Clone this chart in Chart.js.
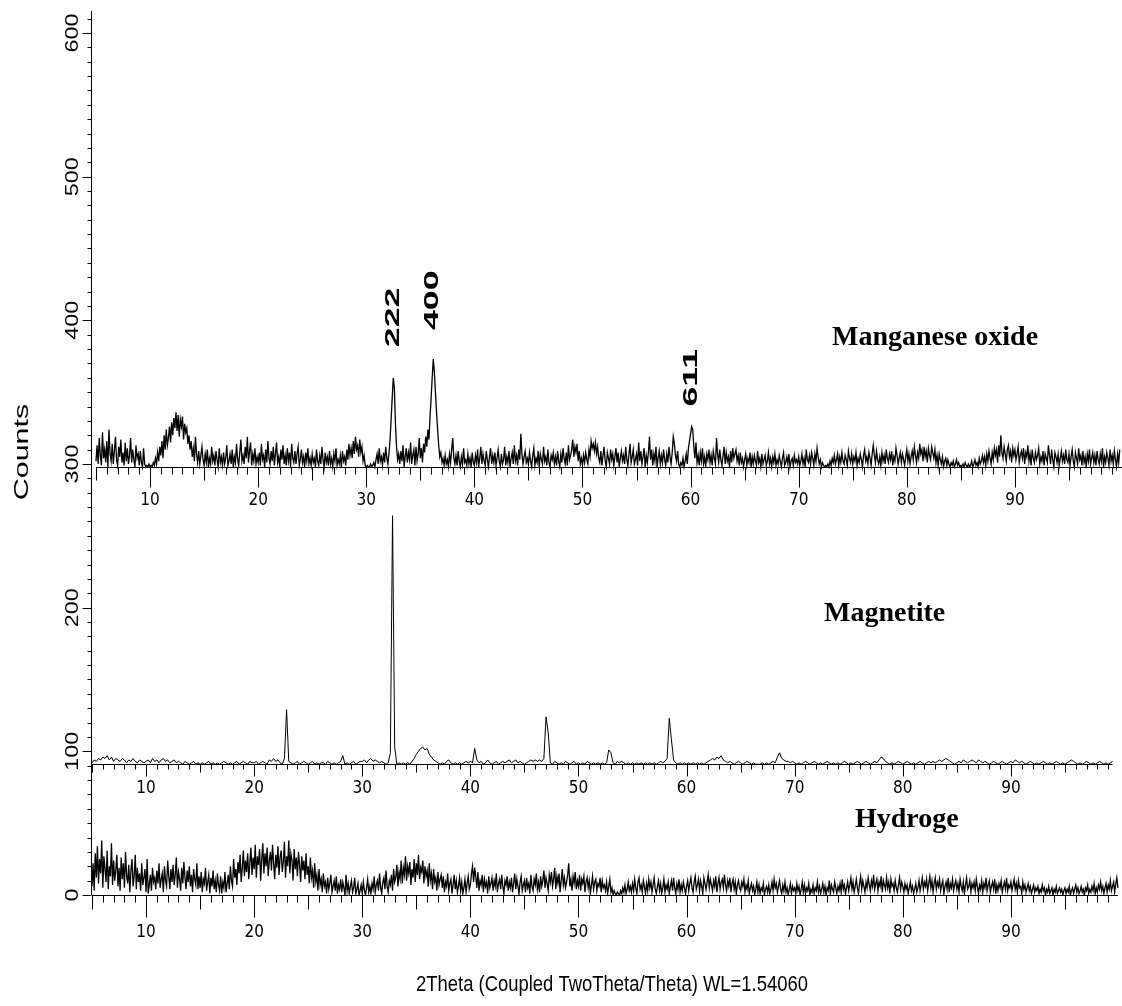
<!DOCTYPE html>
<html>
<head>
<meta charset="utf-8">
<title>XRD patterns</title>
<script src="https://cdn.jsdelivr.net/npm/chart.js@4.4.1/dist/chart.umd.min.js"></script>
<style>
  html, body { margin: 0; padding: 0; background: #fff; }
  canvas { display: block; }
</style>
</head>
<body>
<canvas id="xrdChart" width="1122" height="1006"></canvas>
<script>
// 2theta grid of the scans (degrees)
const THETA_START = 5;
const MN_STEP = 0.1;
const MAG_STEP = 0.2;
const HYD_STEP = 0.1;

const xTickLabels = [10, 20, 30, 40, 50, 60, 70, 80, 90];
const yTickLabels = [0, 100, 200, 300, 400, 500, 600];

// each pattern is stacked on its own baseline (counts)
const mnBaseline = 298;
const magBaseline = 91;
const hydBaseline = 0;

// Manganese oxide, counts above its baseline, one line = 2.5 degrees
const mnCounts = [
  4, 15, 2, 20, 8, 1, 24, 6, 12, 3, 18, 0, 26, 9, 4, 16, 2, 11, 21, 5, 1, 14, 7, 19, 3,
  10, 1, 17, 4, 13, 2, 8, 20, 3, 12, 5, 0, 15, 6, 9, 1, 11, 3, 0, 13, 2, 0, 1, 0, 2,
  0, 1, 0, 3, 1, 6, 2, 10, 4, 14, 8, 18, 6, 22, 12, 26, 15, 20, 28, 17, 31, 22, 34, 27, 38,
  25, 36, 21, 33, 28, 35, 19, 30, 24, 27, 16, 22, 12, 18, 7, 13, 4, 21, 9, 3, 11, 2, 8, 14, 5,
  1, 9, 3, 12, 0, 6, 2, 14, 4, 8, 1, 11, 5, 0, 13, 3, 7, 1, 10, 2, 6, 15, 1, 4, 9,
  2, 12, 0, 7, 3, 16, 5, 1, 10, 19, 4, 8, 2, 14, 6, 21, 3, 11, 17, 1, 9, 4, 13, 2, 7,
  3, 10, 1, 16, 5, 8, 0, 12, 3, 18, 6, 2, 11, 4, 14, 1, 9, 17, 3, 7, 0, 12, 5, 15, 2,
  8, 1, 13, 4, 10, 0, 16, 6, 3, 11, 2, 9, 14, 1, 5, 12, 3, 7, 0, 10, 4, 13, 2, 6, 1,
  9, 3, 6, 0, 12, 4, 1, 8, 2, 14, 5, 0, 10, 3, 7, 1, 11, 2, 6, 0, 9, 4, 13, 1, 5,
  2, 8, 0, 11, 4, 7, 1, 12, 5, 16, 8, 13, 6, 18, 9, 21, 12, 15, 7, 19, 10, 14, 4, 8, 1,
  0, 1, 0, 0, 2, 0, 1, 3, 0, 5, 9, 2, 13, 4, 7, 1, 10, 3, 14, 6, 2, 9, 19, 33, 48,
  62, 55, 30, 14, 5, 9, 2, 11, 4, 15, 0, 7, 13, 3, 10, 5, 17, 2, 8, 12, 1, 14, 4, 9, 20,
  6, 13, 3, 16, 10, 21, 14, 26, 19, 35, 48, 62, 75, 66, 52, 38, 26, 15, 7, 10, 3, 6, 1, 8, 2,
  5, 0, 9, 3, 12, 20, 6, 2, 8, 1, 11, 4, 0, 7, 2, 13, 3, 5, 1, 9, 2, 6, 0, 10, 3,
  1, 8, 3, 12, 0, 6, 14, 2, 9, 4, 1, 11, 5, 0, 7, 13, 2, 8, 3, 10, 1, 6, 12, 4, 0,
  9, 2, 5, 14, 1, 7, 3, 11, 0, 6, 10, 2, 15, 4, 8, 1, 12, 5, 23, 9, 2, 7, 11, 3, 6,
  2, 10, 4, 0, 8, 13, 1, 6, 3, 11, 0, 9, 5, 2, 14, 4, 7, 1, 12, 3, 0, 8, 5, 10, 2,
  7, 1, 11, 4, 0, 9, 3, 13, 6, 2, 10, 1, 15, 5, 8, 12, 19, 7, 14, 10, 16, 4, 11, 2, 6,
  1, 8, 3, 10, 5, 2, 12, 7, 18, 13, 16, 11, 17, 9, 14, 6, 3, 11, 1, 8, 14, 4, 0, 10, 6,
  2, 12, 5, 9, 1, 7, 13, 3, 10, 0, 6, 11, 4, 8, 2, 14, 5, 1, 9, 16, 3, 7, 12, 2, 5,
  9, 1, 17, 4, 11, 2, 7, 13, 0, 8, 3, 10, 21, 5, 12, 1, 9, 4, 14, 0, 6, 11, 2, 8, 3,
  12, 5, 1, 9, 3, 14, 7, 2, 10, 21, 16, 8, 4, 11, 2, 0, 3, 1, 6, 0, 4, 9, 2, 13, 18,
  23, 28, 26, 14, 6, 17, 3, 8, 1, 10, 4, 13, 2, 7, 0, 9, 5, 12, 3, 8, 1, 11, 6, 2, 20,
  9, 3, 12, 5, 1, 8, 14, 2, 10, 4, 7, 0, 11, 3, 13, 6, 9, 12, 4, 8, 1, 10, 3, 6, 0,
  5, 9, 1, 6, 3, 10, 0, 7, 2, 8, 4, 1, 11, 3, 6, 0, 9, 2, 5, 8, 1, 4, 10, 2, 6,
  0, 7, 3, 9, 1, 5, 2, 8, 4, 0, 6, 10, 1, 3, 7, 2, 9, 0, 4, 6, 1, 8, 3, 5, 2,
  7, 1, 4, 9, 2, 6, 0, 12, 5, 3, 8, 2, 10, 6, 1, 9, 4, 13, 7, 2, 5, 0, 3, 1, 0,
  1, 0, 2, 0, 4, 1, 6, 3, 8, 2, 5, 9, 1, 7, 3, 10, 4, 2, 8, 5, 1, 11, 6, 3, 9,
  2, 7, 4, 10, 1, 6, 3, 9, 5, 0, 8, 12, 4, 7, 2, 10, 6, 1, 9, 15, 8, 3, 11, 5, 2,
  7, 1, 10, 4, 8, 2, 12, 6, 3, 9, 5, 11, 1, 7, 4, 13, 8, 2, 6, 10, 3, 9, 5, 1, 7,
  12, 4, 9, 2, 7, 11, 5, 14, 8, 3, 10, 6, 16, 9, 12, 4, 14, 7, 11, 3, 13, 8, 5, 14, 10,
  6, 12, 3, 8, 1, 9, 5, 2, 7, 0, 4, 6, 1, 5, 2, 0, 3, 1, 4, 0, 2, 5, 1, 3, 0,
  1, 0, 2, 0, 3, 1, 0, 2, 0, 1, 4, 0, 2, 5, 1, 3, 0, 6, 2, 4, 8, 3, 7, 1, 9,
  4, 11, 6, 2, 10, 5, 13, 8, 12, 3, 15, 7, 22, 10, 6, 14, 9, 4, 12, 15, 7, 11, 3, 13, 8,
  12, 5, 9, 14, 3, 8, 11, 6, 13, 2, 10, 7, 15, 4, 9, 1, 12, 6, 3, 10, 5, 8, 13, 2, 7,
  4, 11, 1, 9, 6, 3, 15, 8, 2, 12, 5, 0, 10, 7, 3, 9, 1, 6, 11, 4, 8, 2, 12, 5, 3,
  9, 1, 7, 12, 4, 0, 10, 6, 2, 13, 5, 8, 1, 11, 3, 7, 0, 9, 4, 12, 2, 6, 10, 3, 8,
  1, 11, 5, 2, 9, 4, 13, 0, 7, 3, 10, 6, 1, 12, 4, 8, 2, 11, 5, 0, 9, 3, 12, 6, 10
];

// Magnetite, one line = 5 degrees
const magCounts = [
  1, 3, 2, 4, 3, 5, 4, 6, 3, 5, 2, 4, 3, 2, 4, 3, 1, 3, 2, 4, 2, 1, 3, 2, 1,
  2, 3, 1, 4, 2, 3, 1, 3, 4, 2, 3, 1, 2, 3, 1, 2, 1, 0, 2, 1, 0, 1, 2, 0, 1,
  0, 1, 0, 1, 2, 0, 1, 0, 1, 0, 1, 2, 1, 0, 1, 0, 1, 2, 0, 1, 2, 1, 0, 2, 1,
  1, 2, 0, 1, 2, 1, 0, 3, 2, 4, 2, 3, 1, 0, 4, 38, 2, 1, 0, 1, 2, 0, 1, 2, 1,
  0, 1, 2, 0, 1, 0, 1, 1, 0, 2, 1, 0, 1, 0, 1, 2, 6, 0, 1, 0, 1, 2, 0, 1, 2,
  2, 3, 1, 3, 4, 2, 3, 2, 1, 2, 1, 0, 1, 8, 173, 12, 0, 1, 0, 1, 0, 1, 0, 2, 4,
  7, 9, 11, 12, 10, 11, 7, 5, 3, 2, 1, 0, 1, 0, 2, 3, 1, 0, 1, 0, 1, 0, 1, 2, 1,
  2, 1, 11, 3, 1, 2, 0, 1, 3, 1, 0, 1, 2, 0, 1, 2, 1, 2, 3, 1, 2, 3, 1, 2, 1,
  0, 1, 2, 3, 2, 3, 2, 3, 2, 4, 33, 22, 1, 0, 2, 1, 0, 1, 0, 2, 1, 0, 1, 2, 0,
  1, 0, 1, 0, 2, 1, 0, 1, 0, 1, 0, 1, 0, 1, 10, 8, 1, 0, 2, 1, 2, 1, 0, 1, 0,
  1, 0, 1, 0, 1, 0, 1, 0, 1, 0, 1, 0, 1, 2, 1, 2, 4, 32, 17, 3, 1, 0, 1, 0, 1,
  0, 1, 0, 1, 0, 1, 0, 1, 0, 1, 2, 3, 4, 3, 5, 4, 6, 3, 2, 1, 2, 1, 0, 1, 2,
  1, 0, 1, 2, 1, 0, 1, 0, 0, 0, 1, 0, 1, 0, 1, 2, 1, 5, 8, 4, 3, 2, 2, 1, 2,
  1, 0, 1, 0, 1, 2, 1, 0, 1, 2, 1, 0, 1, 0, 1, 2, 1, 0, 1, 0, 1, 0, 1, 2, 1,
  0, 1, 0, 1, 2, 1, 0, 1, 2, 1, 0, 1, 2, 1, 3, 5, 4, 2, 1, 0, 1, 0, 1, 2, 1,
  0, 1, 2, 1, 0, 1, 0, 1, 2, 1, 0, 1, 2, 1, 2, 1, 2, 3, 2, 3, 4, 3, 2, 1, 0,
  1, 2, 1, 3, 2, 1, 2, 3, 2, 1, 3, 2, 1, 2, 1, 0, 1, 2, 1, 0, 1, 2, 1, 0, 1,
  2, 1, 3, 2, 1, 2, 1, 0, 1, 2, 1, 0, 1, 0, 1, 2, 1, 0, 1, 0, 1, 2, 1, 0, 1,
  0, 1, 2, 3, 2, 1, 0, 1, 0, 1, 2, 1, 0, 1, 0, 1, 2, 1, 0, 1, 0, 1, 2
];

// Hydroge, one line = 2.5 degrees
const hydCounts = [
  6, 22, 3, 29, 12, 34, 8, 25, 15, 38, 5, 27, 18, 9, 31, 4, 20, 13, 36, 7, 24, 10, 17, 28, 6,
  19, 3, 26, 11, 22, 5, 30, 14, 8, 21, 2, 17, 25, 6, 13, 28, 4, 19, 9, 15, 3, 22, 7, 12, 18,
  2, 25, 1, 7, 14, 3, 19, 9, 12, 4, 17, 8, 22, 5, 11, 15, 2, 20, 10, 6, 24, 13, 4, 18, 9,
  21, 7, 14, 26, 5, 16, 11, 3, 19, 8, 23, 12, 4, 17, 9, 20, 6, 14, 2, 18, 11, 7, 22, 4, 13,
  5, 16, 2, 11, 8, 19, 3, 9, 14, 1, 12, 6, 17, 4, 10, 2, 15, 7, 3, 13, 1, 9, 5, 16, 2,
  8, 14, 4, 20, 10, 6, 25, 12, 18, 7, 23, 15, 28, 9, 19, 31, 13, 24, 16, 29, 11, 22, 33, 14, 26,
  18, 35, 12, 27, 21, 32, 10, 25, 36, 15, 29, 20, 33, 13, 24, 30, 17, 35, 22, 11, 28, 19, 34, 14, 26,
  31, 16, 23, 37, 12, 27, 20, 38, 15, 29, 24, 10, 32, 18, 26, 13, 30, 21, 9, 27, 17, 24, 11, 29, 14,
  20, 8, 26, 12, 17, 5, 22, 9, 14, 3, 18, 7, 11, 2, 15, 6, 9, 1, 12, 4, 8, 14, 2, 6, 10,
  3, 13, 1, 7, 4, 11, 2, 9, 5, 0, 14, 3, 8, 1, 6, 10, 2, 5, 12, 1, 4, 8, 0, 3, 7,
  1, 9, 3, 0, 5, 11, 2, 6, 1, 8, 4, 13, 2, 7, 10, 3, 15, 5, 1, 9, 12, 4, 17, 6, 2,
  10, 7, 14, 3, 18, 9, 12, 21, 6, 16, 11, 24, 8, 19, 14, 27, 10, 20, 15, 23, 7, 18, 12, 25, 9,
  22, 14, 28, 11, 19, 16, 24, 8, 20, 13, 17, 6, 22, 10, 15, 4, 18, 9, 12, 3, 16, 7, 11, 14, 5,
  13, 2, 9, 6, 15, 3, 8, 11, 1, 7, 14, 4, 10, 2, 6, 12, 3, 9, 1, 5, 11, 2, 8, 13, 4,
  7, 15, 20, 9, 19, 13, 5, 16, 3, 10, 7, 14, 2, 11, 6, 9, 1, 13, 5, 8, 12, 3, 10, 6, 15,
  2, 8, 11, 4, 14, 6, 1, 10, 7, 13, 3, 9, 5, 12, 2, 8, 15, 4, 11, 6, 1, 9, 13, 3, 7,
  10, 2, 12, 5, 8, 1, 14, 6, 3, 11, 7, 15, 4, 9, 2, 13, 6, 10, 17, 5, 12, 8, 3, 14, 9,
  16, 6, 11, 19, 4, 13, 8, 15, 2, 10, 18, 7, 12, 5, 9, 14, 22, 6, 11, 3, 13, 8, 16, 4, 10,
  6, 14, 3, 11, 8, 13, 2, 9, 12, 5, 10, 1, 7, 13, 4, 9, 11, 3, 8, 6, 12, 2, 10, 5, 7,
  3, 9, 1, 6, 11, 2, 5, 0, 3, 1, 0, 2, 1, 0, 3, 1, 5, 2, 7, 1, 4, 9, 3, 6, 2,
  8, 3, 11, 5, 1, 9, 12, 4, 7, 2, 10, 6, 1, 8, 3, 11, 5, 9, 2, 7, 12, 4, 1, 6, 10,
  3, 8, 1, 5, 11, 2, 7, 4, 9, 1, 6, 10, 3, 12, 5, 1, 8, 4, 11, 2, 7, 3, 9, 5, 1,
  6, 10, 3, 8, 12, 5, 2, 9, 13, 4, 7, 11, 3, 10, 6, 1, 12, 8, 4, 9, 14, 5, 11, 7, 3,
  10, 6, 13, 2, 8, 12, 4, 9, 11, 5, 14, 7, 3, 10, 6, 12, 2, 8, 11, 4, 9, 1, 7, 10, 5,
  3, 9, 6, 11, 2, 7, 4, 10, 1, 5, 8, 3, 6, 0, 4, 9, 2, 7, 1, 5, 3, 8, 0, 4, 6,
  2, 7, 1, 4, 9, 3, 11, 5, 8, 2, 6, 10, 4, 1, 7, 3, 9, 2, 5, 0, 4, 8, 1, 6, 3,
  5, 1, 8, 3, 6, 0, 4, 9, 2, 7, 1, 5, 3, 8, 0, 4, 2, 7, 1, 5, 3, 9, 2, 6, 1,
  4, 8, 2, 6, 0, 5, 3, 10, 1, 7, 4, 2, 9, 5, 1, 6, 3, 8, 2, 11, 4, 7, 1, 5, 9,
  3, 7, 12, 4, 9, 2, 6, 11, 5, 1, 8, 13, 4, 10, 6, 2, 9, 5, 12, 7, 3, 10, 6, 14, 4,
  8, 11, 3, 9, 6, 13, 2, 10, 7, 4, 12, 5, 9, 1, 11, 6, 8, 3, 10, 5, 2, 7, 12, 4, 9,
  6, 2, 8, 4, 7, 1, 5, 9, 3, 6, 1, 4, 8, 2, 5, 10, 3, 7, 12, 4, 9, 6, 11, 3, 8,
  13, 5, 10, 2, 8, 12, 4, 9, 6, 11, 3, 7, 10, 1, 6, 9, 4, 12, 2, 8, 5, 11, 3, 7, 10,
  4, 8, 2, 11, 6, 3, 9, 1, 7, 12, 4, 6, 10, 2, 8, 5, 9, 3, 11, 6, 1, 7, 4, 10, 2,
  8, 5, 12, 3, 7, 10, 2, 6, 9, 4, 11, 1, 7, 3, 8, 5, 10, 2, 6, 9, 4, 12, 3, 7, 5,
  9, 3, 7, 11, 4, 8, 2, 10, 5, 6, 1, 9, 4, 7, 2, 5, 8, 3, 6, 1, 4, 7, 2, 5, 3,
  6, 1, 4, 2, 7, 3, 5, 0, 4, 2, 6, 1, 3, 5, 0, 4, 2, 6, 1, 3, 5, 2, 4, 0, 3,
  5, 1, 4, 2, 6, 0, 3, 5, 1, 4, 7, 2, 5, 1, 3, 6, 2, 4, 0, 5, 3, 7, 1, 4, 2,
  6, 3, 8, 1, 5, 2, 7, 4, 9, 3, 6, 1, 5, 8, 2, 7, 4, 10, 3, 6, 9, 2, 8, 12, 5
];

// hkl reflections marked on the manganese oxide pattern
const hklLabels = ['222', '400', '611'];
const hklTheta = [32.5, 36.1, 60.1];
const hklLabelCounts = [402, 414, 360];

const patternNames = ['Manganese oxide', 'Magnetite', 'Hydroge'];
const xTitle = '2Theta (Coupled TwoTheta/Theta) WL=1.54060';

const NARROW = '"Liberation Sans Narrow", "DejaVu Sans Condensed", "Arial Narrow", sans-serif';
const SANS = '"Liberation Sans", Arial, sans-serif';
const SERIF = '"Liberation Serif", "Times New Roman", serif';

function toPoints(counts, base, step) {
  return counts.map((c, i) => ({ x: +(THETA_START + i * step).toFixed(1), y: base + c }));
}

function line(ctx, x1, y1, x2, y2) {
  ctx.beginPath();
  ctx.moveTo(x1, y1);
  ctx.lineTo(x2, y2);
  ctx.stroke();
}

// baseline + ticks + labels for one pattern
function drawThetaAxis(ctx, xs, ys, base, last, lens, labelGap, font) {
  const py = Math.round(ys.getPixelForValue(base)) + 0.5;
  line(ctx, xs.getPixelForValue(THETA_START), py, xs.getPixelForValue(last), py);
  for (let t = THETA_START; t <= Math.floor(last); t++) {
    const px = Math.round(xs.getPixelForValue(t)) + 0.5;
    const len = t % 10 === 0 ? lens[0] : (t % 5 === 0 ? lens[1] : lens[2]);
    line(ctx, px, py, px, py + len);
  }
  ctx.font = font;
  ctx.textAlign = 'center';
  ctx.textBaseline = 'middle';
  xTickLabels.forEach(v => {
    ctx.fillText(String(v), xs.getPixelForValue(v), py + labelGap);
  });
}

const xrdAxes = {
  id: 'xrdAxes',
  afterDraw(chart) {
    const { ctx, chartArea: area, scales: { x, x2, y } } = chart;
    ctx.save();
    ctx.strokeStyle = '#000';
    ctx.fillStyle = '#000';
    ctx.lineWidth = 1;

    // Counts axis
    const ax = Math.round(area.left) - 0.5;
    line(ctx, ax, area.top, ax, y.getPixelForValue(0));
    for (let v = 0; v <= 610; v += 10) {
      const py = Math.round(y.getPixelForValue(v)) + 0.5;
      line(ctx, ax - (v % 100 === 0 ? 9 : 4), py, ax, py);
    }
    ctx.font = '18px ' + SANS;
    ctx.textAlign = 'center';
    ctx.textBaseline = 'middle';
    yTickLabels.forEach(v => {
      ctx.save();
      ctx.translate(73, y.getPixelForValue(v));
      ctx.rotate(-Math.PI / 2);
      ctx.scale(1.3, 1);
      ctx.fillText(String(v), 0, 0);
      ctx.restore();
    });
    ctx.save();
    ctx.translate(22, 452);
    ctx.rotate(-Math.PI / 2);
    ctx.scale(1.45, 1);
    ctx.font = '21px ' + SANS;
    ctx.fillText('Counts', 0, 0);
    ctx.restore();

    // 2theta axes
    drawThetaAxis(ctx, x2, y, mnBaseline, 99.9, [20, 13, 7], 33, '17px ' + NARROW);
    drawThetaAxis(ctx, x, y, magBaseline, 99.4, [12, 8, 5], 24, '17px ' + NARROW);
    drawThetaAxis(ctx, x, y, hydBaseline, 99.9, [22, 14, 7], 37, '17px ' + NARROW);

    // x title squeezed to the narrow width of the original
    ctx.save();
    ctx.font = '22px ' + SANS;
    const w = ctx.measureText(xTitle).width;
    ctx.translate(612, 985);
    ctx.scale(392 / w, 1);
    ctx.fillText(xTitle, 0, 0);
    ctx.restore();

    // hkl labels
    ctx.font = 'bold 21px ' + SANS;
    hklLabels.forEach((txt, i) => {
      ctx.save();
      ctx.translate(x2.getPixelForValue(hklTheta[i]), y.getPixelForValue(hklLabelCounts[i]));
      ctx.rotate(-Math.PI / 2);
      ctx.scale(1.7, 1);
      ctx.fillText(txt, 0, 0);
      ctx.restore();
    });

    // pattern names
    ctx.font = 'bold 28px ' + SERIF;
    ctx.textAlign = 'left';
    ctx.fillText(patternNames[0], 832, 338);
    ctx.fillText(patternNames[1], 824, 614);
    ctx.fillText(patternNames[2], 855, 820);

    ctx.restore();
  }
};

const lineStyle = { borderColor: '#000', borderWidth: 1, pointRadius: 0, tension: 0, fill: false };

new Chart(document.getElementById('xrdChart').getContext('2d'), {
  type: 'line',
  data: {
    datasets: [
      { ...lineStyle, borderWidth: 1.3, label: patternNames[0], data: toPoints(mnCounts, mnBaseline, MN_STEP), xAxisID: 'x2', clip: 4 },
      { ...lineStyle, label: patternNames[1], data: toPoints(magCounts, magBaseline, MAG_STEP) },
      { ...lineStyle, borderWidth: 1.3, label: patternNames[2], data: toPoints(hydCounts, hydBaseline, HYD_STEP) }
    ]
  },
  options: {
    responsive: false,
    animation: false,
    devicePixelRatio: 1,
    layout: { padding: { left: 92, right: 3, top: 11, bottom: 111 } },
    plugins: { legend: { display: false }, tooltip: { enabled: false } },
    scales: {
      x: { type: 'linear', min: 5, max: 100, display: false },
      x2: { type: 'linear', min: 4.63, max: 99.63, display: false },
      y: { type: 'linear', min: 0, max: 615.3, display: false }
    }
  },
  plugins: [xrdAxes]
});
</script>
</body>
</html>
